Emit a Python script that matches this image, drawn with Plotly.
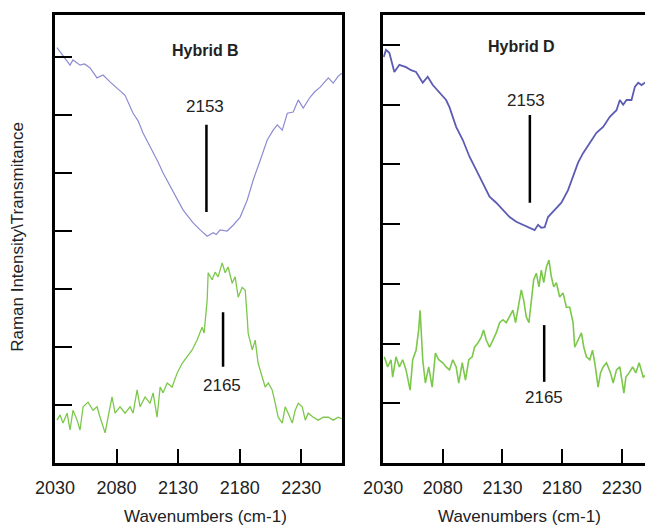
import plotly.graph_objects as go

# ---------------- data ----------------
# Left panel (Hybrid B)
b_ir_x = [2031.6, 2036.5, 2042.2, 2044.6, 2050.3, 2054.0, 2058.5, 2064.1, 2069.0, 2074.7,
          2080.4, 2086.9, 2093.4, 2097.5, 2101.5, 2105.0, 2109.7, 2113.5, 2117.8, 2121.5,
          2125.9, 2130.0, 2134.1, 2138.0, 2142.2, 2147.9, 2153.6, 2158.5, 2161.0, 2164.1,
          2169.8, 2174.7, 2180.4, 2186.1, 2191.0, 2196.7, 2202.4, 2207.2, 2210.5, 2214.6,
          2218.7, 2223.5, 2227.6, 2231.6, 2237.3, 2241.0, 2245.4, 2252.0, 2256.0, 2260.1, 2263.0]
b_ir_y = [7.16, 7.03, 6.86, 6.95, 6.86, 6.88, 6.81, 6.64, 6.69, 6.57,
          6.47, 6.34, 6.03, 5.90, 5.69, 5.55, 5.34, 5.20, 5.00, 4.85,
          4.66, 4.52, 4.36, 4.26, 4.14, 4.02, 3.91, 3.97, 3.94, 4.02,
          4.00, 4.10, 4.24, 4.53, 4.88, 5.22, 5.57, 5.74, 5.83, 5.74,
          6.03, 6.05, 6.26, 6.12, 6.31, 6.40, 6.48, 6.64, 6.55, 6.67, 6.72]

b_ra_x = [2031.6, 2034.1, 2036.5, 2039.8, 2042.2, 2044.6, 2047.9, 2050.3, 2052.8, 2056.8,
          2060.9, 2064.1, 2066.6, 2070.7, 2073.1, 2076.3, 2078.8, 2082.8, 2086.9, 2091.0,
          2093.4, 2096.7, 2099.1, 2103.2, 2107.2, 2109.7, 2112.9, 2115.4, 2117.8, 2121.1,
          2125.1, 2129.2, 2133.3, 2137.3, 2141.4, 2145.4, 2149.5, 2151.1, 2153.6, 2154.4,
          2157.6, 2160.1, 2162.5, 2165.8, 2168.2, 2170.6, 2173.9, 2176.3, 2178.8, 2182.0,
          2184.5, 2186.1, 2186.9, 2190.2, 2192.6, 2195.0, 2198.3, 2200.7, 2203.2, 2206.4,
          2208.9, 2211.3, 2214.6, 2217.0, 2219.4, 2222.7, 2225.1, 2227.6, 2230.8, 2233.3,
          2235.7, 2239.8, 2243.8, 2247.9, 2252.0, 2256.0, 2260.1, 2263.0]
b_ra_y = [0.74, 0.83, 0.69, 0.86, 0.57, 0.91, 0.74, 0.57, 0.97, 1.05,
          0.91, 0.97, 0.79, 0.52, 0.79, 1.14, 0.86, 0.97, 0.86, 0.97,
          0.86, 1.26, 0.97, 1.14, 1.03, 1.21, 0.79, 1.31, 1.21, 1.38,
          1.31, 1.55, 1.72, 1.83, 1.95, 2.12, 2.34, 2.24, 2.81, 3.28,
          3.16, 3.29, 3.21, 3.45, 3.28, 3.38, 3.10, 3.21, 2.86, 3.03,
          2.98, 2.52, 2.24, 1.95, 2.12, 1.72, 1.48, 1.31, 1.38, 1.26,
          1.03, 0.79, 0.69, 0.97, 0.86, 0.69, 0.91, 1.03, 0.97, 0.74,
          0.86, 0.79, 0.74, 0.79, 0.79, 0.74, 0.79, 0.76]

# Right panel (Hybrid D)
d_ir_x = [2030.5, 2032.4, 2035.2, 2039.4, 2043.6, 2049.2, 2053.4, 2057.6, 2063.2, 2067.4,
          2071.6, 2077.2, 2082.8, 2085.6, 2091.2, 2096.8, 2102.4, 2108.0, 2113.6, 2119.2,
          2124.8, 2130.4, 2136.0, 2141.6, 2147.2, 2152.8, 2157.0, 2159.8, 2162.6, 2165.4,
          2168.2, 2173.8, 2179.4, 2185.0, 2189.2, 2193.4, 2197.6, 2203.2, 2208.8, 2214.4,
          2220.0, 2225.6, 2228.4, 2231.2, 2234.0, 2238.2, 2241.0, 2243.8, 2246.6, 2249.4, 2252.0]
d_ir_y = [6.80, 6.92, 6.87, 6.55, 6.67, 6.63, 6.58, 6.55, 6.37, 6.47,
          6.33, 6.21, 6.08, 5.96, 5.63, 5.41, 5.13, 4.91, 4.69, 4.46,
          4.36, 4.24, 4.12, 4.04, 3.99, 3.94, 3.90, 3.99, 3.94, 3.95,
          4.12, 4.24, 4.36, 4.57, 4.79, 5.03, 5.19, 5.36, 5.53, 5.63,
          5.80, 5.91, 6.08, 6.00, 6.08, 6.08, 6.30, 6.37, 6.33, 6.37, 6.40]

d_ra_x = [2031.0, 2033.8, 2036.6, 2038.0, 2040.8, 2043.6, 2046.4, 2049.2, 2052.6, 2054.8,
          2057.6, 2059.8, 2061.0, 2063.2, 2065.4, 2068.2, 2071.1, 2073.8, 2076.6, 2080.0,
          2082.8, 2085.6, 2088.4, 2091.2, 2093.4, 2096.3, 2099.0, 2101.8, 2104.7, 2106.6,
          2109.4, 2112.2, 2114.2, 2116.4, 2119.2, 2122.0, 2124.8, 2127.6, 2130.4, 2133.2,
          2136.0, 2138.8, 2141.0, 2143.0, 2145.8, 2147.8, 2150.0, 2152.2, 2154.2, 2156.2,
          2158.4, 2160.6, 2162.6, 2164.6, 2166.8, 2169.0, 2171.0, 2173.0, 2175.2, 2178.0,
          2180.8, 2183.6, 2186.4, 2189.2, 2190.6, 2193.4, 2196.2, 2198.2, 2200.4, 2203.2,
          2205.5, 2207.4, 2210.2, 2212.2, 2214.4, 2217.2, 2220.6, 2222.8, 2225.6, 2228.4,
          2231.8, 2233.5, 2236.2, 2239.1, 2241.8, 2244.6, 2248.0, 2252.0]
d_ra_y = [1.78, 1.61, 1.73, 1.44, 1.78, 1.61, 1.73, 1.56, 1.22, 1.73,
          1.89, 2.23, 2.56, 1.73, 1.34, 1.61, 1.27, 1.84, 1.73, 1.68,
          1.61, 1.56, 1.73, 1.61, 1.34, 1.68, 1.39, 1.73, 1.78, 1.94,
          2.01, 2.11, 2.23, 2.06, 1.94, 2.06, 2.18, 2.35, 2.40, 2.35,
          2.45, 2.56, 2.35, 2.61, 2.90, 2.73, 2.45, 2.35, 2.73, 3.07,
          3.18, 2.95, 3.23, 3.02, 3.28, 3.40, 3.12, 2.95, 3.02, 2.78,
          2.85, 2.61, 2.61, 2.35, 1.94, 2.06, 2.18, 1.94, 1.78, 1.73,
          1.89, 1.68, 1.27, 1.51, 1.61, 1.68, 1.51, 1.34, 1.56, 1.61,
          1.17, 1.44, 1.51, 1.61, 1.51, 1.68, 1.44, 1.50]

x_ticks = [2030, 2080, 2130, 2180, 2230]
y_ticks = [1, 2, 3, 4, 5, 6, 7]

panel_titles = ["Hybrid B", "Hybrid D"]
ir_peak = 2153
raman_peak = 2165

FONT = "Arial, Liberation Sans, sans-serif"
BLUE_L = "#8c8cd2"
BLUE_R = "#5c5cb4"
GREEN = "#7cc84a"

fig = go.Figure()
fig.add_trace(go.Scatter(x=b_ir_x, y=b_ir_y, mode="lines", line=dict(color=BLUE_L, width=1.2),
                         xaxis="x", yaxis="y", showlegend=False, hoverinfo="skip"))
fig.add_trace(go.Scatter(x=b_ra_x, y=b_ra_y, mode="lines", line=dict(color=GREEN, width=1.3),
                         xaxis="x", yaxis="y", showlegend=False, hoverinfo="skip"))
fig.add_trace(go.Scatter(x=d_ir_x, y=d_ir_y, mode="lines", line=dict(color=BLUE_R, width=1.8),
                         xaxis="x2", yaxis="y2", showlegend=False, hoverinfo="skip"))
fig.add_trace(go.Scatter(x=d_ra_x, y=d_ra_y, mode="lines", line=dict(color=GREEN, width=1.6),
                         xaxis="x2", yaxis="y2", showlegend=False, hoverinfo="skip"))

# peak marker lines (vertical segments in data coordinates)
marks = [
    ("x", "y", ir_peak, 4.33, 5.83),
    ("x", "y", raman_peak + 1.5, 1.66, 2.60),
    ("x2", "y2", ir_peak, 4.36, 5.83),
    ("x2", "y2", raman_peak, 1.36, 2.31),
]
for xr, yr, xv, y0, y1 in marks:
    fig.add_shape(type="line", xref=xr, yref=yr, x0=xv, x1=xv, y0=y0, y1=y1,
                  line=dict(color="black", width=2.5))

labels = [
    ("x", "y", 2152, 7.12, panel_titles[0], True),
    ("x", "y", ir_peak - 1, 6.14, str(ir_peak), False),
    ("x", "y", raman_peak + 1, 1.34, str(raman_peak), False),
    ("x2", "y2", 2146, 6.98, panel_titles[1], True),
    ("x2", "y2", 2150, 6.08, str(ir_peak), False),
    ("x2", "y2", raman_peak, 1.09, str(raman_peak), False),
]
for xr, yr, xv, yv, txt, bold in labels:
    fig.add_annotation(xref=xr, yref=yr, x=xv, y=yv, text=f"<b>{txt}</b>" if bold else txt,
                       showarrow=False, font=dict(family=FONT, size=16 if bold else 17, color="#222"))

# axis titles
for xc in [0.319, 0.806]:
    fig.add_annotation(xref="paper", yref="paper", x=xc, y=0.016, xanchor="center",
                       yanchor="middle", text="Wavenumbers (cm-1)", showarrow=False,
                       font=dict(family=FONT, size=17, color="#222"))
fig.add_annotation(xref="paper", yref="paper", x=0.028, y=0.549, xanchor="center",
                   yanchor="middle", textangle=-90,
                   text="Raman Intensity\\Transmitance", showarrow=False,
                   font=dict(family=FONT, size=17, color="#222"))

xa = dict(range=[2030, 2263], tickvals=x_ticks, ticks="inside", ticklen=14, tickwidth=2,
          tickcolor="black", showline=True, linecolor="black", linewidth=2.5, mirror=True,
          showgrid=False, zeroline=False, ticklabelstandoff=7, automargin=False,
          tickfont=dict(family=FONT, size=18, color="#222"))
ya = dict(range=[0, 7.72], tickvals=y_ticks, ticks="inside", ticklen=17, tickwidth=2,
          tickcolor="black", showline=True, linecolor="black", linewidth=2.5, mirror=True,
          showgrid=False, zeroline=False, showticklabels=False, automargin=False)

fig.update_layout(
    width=645, height=525, margin=dict(l=0, r=0, t=0, b=0, autoexpand=False),
    paper_bgcolor="white", plot_bgcolor="white",
    xaxis=dict(xa, domain=[0.0853, 0.530], anchor="y"),
    yaxis=dict(ya, domain=[0.118, 0.971], anchor="x"),
    xaxis2=dict(xa, domain=[0.594, 1.0], anchor="y2", range=[2030, 2249.5]),
    yaxis2=dict(ya, domain=[0.118, 0.971], anchor="x2", range=[0, 7.5], mirror=False),
)

fig.write_html("out.html")
